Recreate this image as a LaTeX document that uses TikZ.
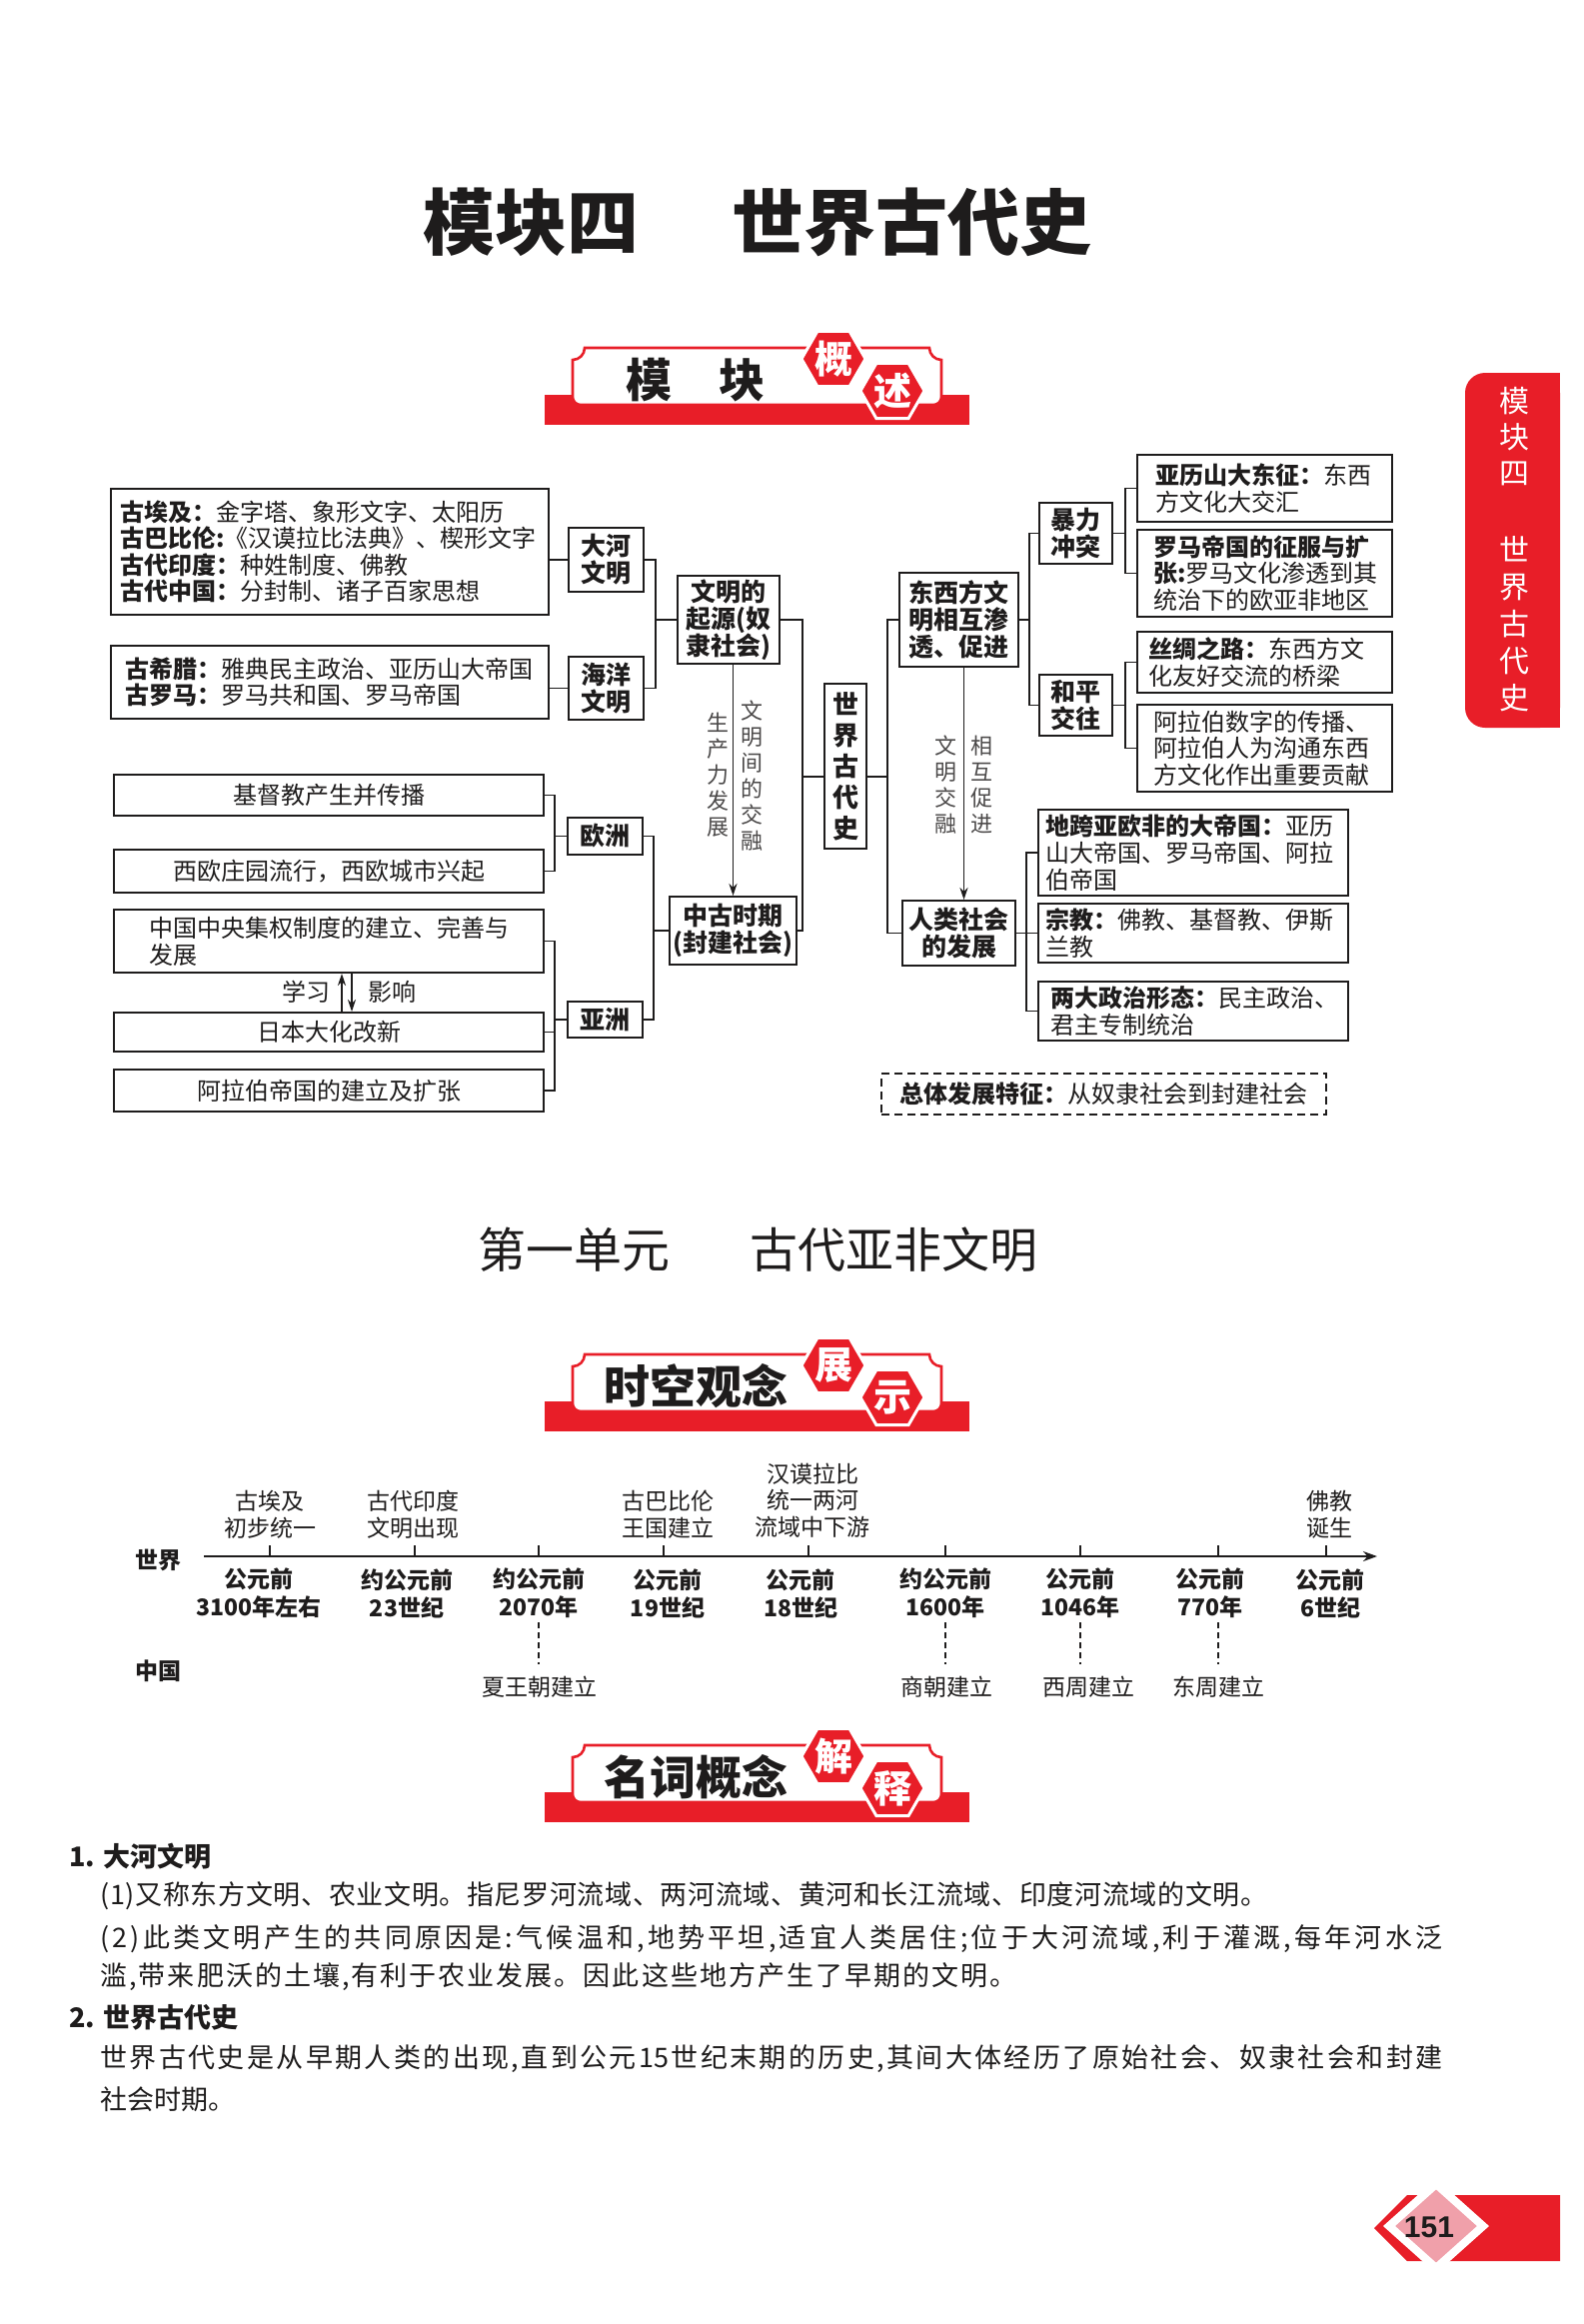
\documentclass[tikz,border=0pt]{standalone}
\usepackage{fontspec}
\setmainfont{Noto Sans CJK SC}
\newfontfamily\arialf{Liberation Sans}
\usetikzlibrary{arrows.meta,shapes.geometric}
\definecolor{hred}{RGB}{232,30,40}
\definecolor{hpink}{RGB}{240,160,170}
\definecolor{ink}{RGB}{30,28,28}
\newcommand{\myfs}[2]{\fontsize{#1pt}{#2pt}\selectfont}
\makeatletter
\newcommand{\spreadline}[2]{\makebox[#1][s]{\@tfor\my@c:=#2\do{\my@c\hfil}\unskip}}
\makeatother
\newcommand{\mybanner}[5]{%
  \fill[hred] (545,#1) rectangle (970,#1+30);
  \draw[hred, line width=1.3pt, fill=white] (573,#1-35) .. controls (579.6,#1-35) and (585,#1-40.4) .. (585,#1-47)
    -- (930,#1-47) .. controls (930,#1-40.4) and (935.4,#1-35) .. (942,#1-35)
    -- (942,#1+2) .. controls (942,#1+6.4) and (938.4,#1+10) .. (934,#1+10)
    -- (581,#1+10) .. controls (576.6,#1+10) and (573,#1+6.4) .. (573,#1+2) -- cycle;
  \node[inner sep=0pt, text=ink, font=\myfs{23}{23}\bfseries] (#2t) at (696,#1-15) {#3};
  \node[hexa] (#2a) at (834,#1-36) {#4};
  \node[hexa] (#2b) at (893,#1-4) {#5};
}
\begin{document}
\begin{tikzpicture}[x=0.5pt, y=-0.5pt,
  box/.style={draw=ink, line width=1pt, inner sep=0pt, align=center, text=ink, font=\myfs{12.5}{13.5}\bfseries},
  cbox/.style={draw=ink, line width=1pt, inner sep=0pt, align=left, text=ink, font=\myfs{12}{13.3}},
  sz/.style 2 args={minimum width=#1*0.5pt, minimum height=#2*0.5pt},
  conn/.style={draw=ink, line width=0.9pt},
  arr/.style={draw=ink, line width=0.9pt, -{Stealth[length=6pt,width=4pt]}},
  vlab/.style={inner sep=0pt, align=center, text=ink!80, font=\myfs{11}{13}},
  hexa/.style={regular polygon, regular polygon sides=6, minimum size=32pt, inner sep=0pt, fill=hred, draw=white, line width=1.5pt, text=white, font=\myfs{19}{19}\bfseries},
  tl/.style={inner sep=0pt, align=center, text=ink, font=\myfs{11.5}{13.3}},
  tlb/.style={inner sep=0pt, align=center, text=ink, font=\myfs{11.5}{14}\bfseries},
  jl/.style={anchor=west, inner sep=0pt, text=ink, font=\myfs{13.5}{15}},
  hd/.style={anchor=west, inner sep=0pt, text=ink, font=\myfs{13.5}{15}\bfseries},
  dsh/.style={draw=ink, line width=0.6pt, dash pattern=on 3pt off 2pt}
]
\fill[white] (0,0) rectangle (1585,2325);
\useasboundingbox (0,0) rectangle (1585,2325);

% ---------- title ----------
\node[inner sep=0pt, text=ink, font=\myfs{36}{36}\bfseries] (ttl1) at (531,222) {模块四};
\node[inner sep=0pt, text=ink, font=\myfs{36}{36}\bfseries] (ttl2) at (912,222) {世界古代史};

% ---------- side tab ----------
\fill[hred, rounded corners=10pt] (1466,373) rectangle (1561,728);
\fill[hred] (1520,373) rectangle (1561,728);
\node[inner sep=0pt, align=center, text=white, font=\myfs{15}{18}] (tab1) at (1515,437) {模\\块\\四};
\node[inner sep=0pt, align=center, text=white, font=\myfs{15}{18.5}] (tab2) at (1515,624) {世\\界\\古\\代\\史};

% ---------- banner 1 ----------
\mybanner{395}{bnA}{模\hspace{24pt}块}{概}{述}

% ---------- overview diagram ----------
\node[cbox, font=\myfs{12}{13.25}, sz={438}{126}, text width=210pt, inner xsep=4.5pt] (A1) at (330,552) {\textbf{古埃及：}金字塔、象形文字、太阳历\\\textbf{古巴比伦:}《汉谟拉比法典》、楔形文字\\\textbf{古代印度：}种姓制度、佛教\\\textbf{古代中国：}分封制、诸子百家思想};
\node[cbox, font=\myfs{12}{13.25}, sz={438}{73}, text width=205pt, inner xsep=7pt] (A2) at (330,682.5) {\textbf{古希腊：}雅典民主政治、亚历山大帝国\\\textbf{古罗马：}罗马共和国、罗马帝国};
\node[box, sz={75}{64}] (B1) at (606.5,560) {大河\\文明};
\node[box, sz={75}{63}] (B2) at (606.5,688.5) {海洋\\文明};
\node[box, sz={102}{88}] (C1) at (729,620) {文明的\\起源(奴\\隶社会)};
\node[box, sz={127}{68}] (C2) at (733.5,931) {中古时期\\(封建社会)};
\node[box, sz={42}{165}, font=\myfs{13}{15.5}\bfseries] (D) at (846,766.5) {世\\界\\古\\代\\史};
\node[box, sz={119}{94}] (E1) at (959.5,620) {东西方文\\明相互渗\\透、促进};
\node[box, sz={113}{65}] (E2) at (959.5,933.5) {人类社会\\的发展};

\node[cbox, sz={430}{41}] (L1) at (329,795.5) {基督教产生并传播};
\node[cbox, sz={430}{43}] (L2) at (329,871.5) {西欧庄园流行，西欧城市兴起};
\node[cbox, sz={430}{63}] (L3) at (329,941.5) {中国中央集权制度的建立、完善与\\发展};
\node[cbox, sz={430}{39}] (L4) at (329,1032.5) {日本大化改新};
\node[cbox, sz={430}{42}] (L5) at (329,1091) {阿拉伯帝国的建立及扩张};
\node[box, sz={75}{37}] (M1) at (605.5,836.5) {欧洲};
\node[box, sz={75}{36}] (M2) at (605.5,1020) {亚洲};

\node[box, sz={73}{61}] (R1) at (1076.5,533.5) {暴力\\冲突};
\node[box, sz={73}{61}] (R2) at (1076.5,705.5) {和平\\交往};
\node[cbox, sz={255}{67}, text width=109.5pt, inner xsep=9pt] (S1) at (1265.5,488.5) {\textbf{亚历山大东征：}东西\\方文化大交汇};
\node[cbox, sz={255}{87}, text width=111.5pt, inner xsep=8pt] (S2) at (1265.5,573.5) {\textbf{罗马帝国的征服与扩}\\\textbf{张:}罗马文化渗透到其\\统治下的欧亚非地区};
\node[cbox, sz={255}{61}, text width=116.5pt, inner xsep=5.5pt] (S3) at (1265.5,662.5) {\textbf{丝绸之路：}东西方文\\化友好交流的桥梁};
\node[cbox, sz={255}{87}, text width=111.5pt, inner xsep=8pt] (S4) at (1265.5,748.5) {阿拉伯数字的传播、\\阿拉伯人为沟通东西\\方文化作出重要贡献};
\node[cbox, sz={310}{86}, text width=148pt, inner xsep=3.5pt] (T1) at (1194,853) {\textbf{地跨亚欧非的大帝国：}亚历\\山大帝国、罗马帝国、阿拉\\伯帝国};
\node[cbox, sz={310}{59}, text width=148pt, inner xsep=3.5pt] (T2) at (1194,933.5) {\textbf{宗教：}佛教、基督教、伊斯\\兰教};
\node[cbox, sz={310}{59}, text width=143pt, inner xsep=6pt] (T3) at (1194,1011.5) {\textbf{两大政治形态：}民主政治、\\君主专制统治};
\node[draw=ink, line width=0.8pt, dash pattern=on 4pt off 2.5pt, inner sep=0pt, text=ink, font=\myfs{12}{13}, sz={445}{41}] (U) at (1104.5,1094.5) {\textbf{总体发展特征：}从奴隶社会到封建社会};

% junctions
\coordinate (jA) at (656,620);
\coordinate (jC) at (803,777);
\coordinate (jE) at (888,777);
\coordinate (jM1) at (555,836.5);
\coordinate (jM2) at (555,1020);
\coordinate (jN) at (654,931);
\coordinate (jR) at (1030,620);
\coordinate (jS1) at (1126,533.5);
\coordinate (jS2) at (1126,705.5);
\coordinate (jT) at (1027,933.5);

\draw[conn] (B1.west) -- (B1.west -| A1.east);
\draw[conn] (B2.west) -- (B2.west -| A2.east);
\draw[conn] (B1.east) -| (jA) |- (B2.east);
\draw[conn] (jA) -- (C1.west);
\draw[conn] (C1.east) -| (jC) |- (C2.east);
\draw[conn] (jC) -- (jC -| D.west);
\draw[conn] (jE -| D.east) -- (jE);
\draw[conn] (E1.west) -| (jE) |- (E2.west);
\draw[conn] (L1.east) -| (jM1) |- (L2.east);
\draw[conn] (jM1) -- (M1.west);
\draw[conn] (L3.east) -| (jM2) |- (L5.east);
\draw[conn] (L4.east) -- (L4.east -| jM2);
\draw[conn] (jM2) -- (M2.west);
\draw[conn] (M1.east) -| (jN) |- (M2.east);
\draw[conn] (jN) -- (C2.west);
\draw[conn] (E1.east) -- (jR);
\draw[conn] (R1.west) -| (jR) |- (R2.west);
\draw[conn] (S1.west) -| (jS1) |- (S2.west);
\draw[conn] (R1.east) -- (jS1);
\draw[conn] (S3.west) -| (jS2) |- (S4.west);
\draw[conn] (R2.east) -- (jS2);
\draw[conn] (T1.west) -| (jT) |- (T3.west);
\draw[conn] (E2.east) -- (T2.west);

\draw[arr] (C2.north |- C1.south) -- (C2.north);
\draw[arr] ([xshift=2.5pt]E2.north |- E1.south) -- ([xshift=2.5pt]E2.north);
\node[vlab] (v1) at (718,775) {生\\产\\力\\发\\展};
\node[vlab] (v2) at (752,776) {文\\明\\间\\的\\交\\融};
\node[vlab] (v3) at (946,785) {文\\明\\交\\融};
\node[vlab] (v4) at (982,785) {相\\互\\促\\进};

\draw[arr] ([xshift=6.5pt]L4.north) -- ([xshift=6.5pt]L3.south);
\draw[arr] ([xshift=11.5pt]L3.south) -- ([xshift=11.5pt]L4.north);
\node[inner sep=0pt, text=ink, font=\myfs{12}{13}] (xx) at (306,992) {学习};
\node[inner sep=0pt, text=ink, font=\myfs{12}{13}] (yx) at (392,992) {影响};

% ---------- unit title ----------
\node[inner sep=0pt, text=ink, font=\myfs{24}{24}] (un1) at (574,1250) {第一单元};
\node[inner sep=0pt, text=ink, font=\myfs{24}{24}] (un2) at (894,1250) {古代亚非文明};

% ---------- banner 2 ----------
\mybanner{1402}{bnB}{时空观念}{展}{示}

% ---------- timeline ----------
\node[tlb] (w0) at (158,1561) {世界};
\node[tlb] (c0) at (158,1672) {中国};
\coordinate (ax0) at (204,1557);
\coordinate (ax1) at (1378,1557);
\draw[draw=ink, line width=1.1pt, -{Stealth[length=7pt,width=5pt]}] (ax0) -- (ax1);
\foreach \x in {270,415,539,664,809,946,1081,1219,1327} \draw[conn] (\x,1557) -- (\x,1546);

\node[tl] (t1) at (270,1515) {古埃及\\初步统一};
\node[tl] (t2) at (413,1515) {古代印度\\文明出现};
\node[tl] (t3) at (668,1515) {古巴比伦\\王国建立};
\node[tl] (t4) at (813,1501) {汉谟拉比\\统一两河\\流域中下游};
\node[tl] (t5) at (1330,1515) {佛教\\诞生};

\node[tlb] (b1) at (259,1594) {公元前\\3100年左右};
\node[tlb] (b2) at (407,1594) {约公元前\\23世纪};
\node[tlb] (b3) at (539,1594) {约公元前\\2070年};
\node[tlb] (b4) at (668,1594) {公元前\\19世纪};
\node[tlb] (b5) at (801,1594) {公元前\\18世纪};
\node[tlb] (b6) at (946,1594) {约公元前\\1600年};
\node[tlb] (b7) at (1081,1594) {公元前\\1046年};
\node[tlb] (b8) at (1211,1594) {公元前\\770年};
\node[tlb] (b9) at (1331,1594) {公元前\\6世纪};

\node[tl] (c1) at (540,1688) {夏王朝建立};
\node[tl] (c2) at (947,1688) {商朝建立};
\node[tl] (c3) at (1089,1688) {西周建立};
\node[tl] (c4) at (1219,1688) {东周建立};
\draw[dsh] ([yshift=-2pt]b3.south) -- ([yshift=6pt]b3.south |- c1.north);
\draw[dsh] ([yshift=-2pt]b6.south) -- ([yshift=6pt]b6.south |- c2.north);
\draw[dsh] ([yshift=-2pt]b7.south) -- ([yshift=6pt]b7.south |- c3.north);
\draw[dsh] ([yshift=-2pt]c4.north |- b8.south) -- ([yshift=6pt]c4.north);

% ---------- banner 3 ----------
\mybanner{1793}{bnC}{名词概念}{解}{释}

% ---------- body text ----------
\node[hd] (h1) at (69,1857) {1. 大河文明};
\node[jl] (p1) at (100,1897) {\spreadline{584pt}{(1)又称东方文明、农业文明。指尼罗河流域、两河流域、黄河和长江流域、印度河流域的文明。}};
\node[jl] (p2) at (100,1940) {\spreadline{671.5pt}{(2)此类文明产生的共同原因是:气候温和,地势平坦,适宜人类居住;位于大河流域,利于灌溉,每年河水泛}};
\node[jl] (p3) at (100,1978) {\spreadline{458.5pt}{滥,带来肥沃的土壤,有利于农业发展。因此这些地方产生了早期的文明。}};
\node[hd] (h2) at (69,2018) {2. 世界古代史};
\node[jl] (p4) at (100,2060) {\spreadline{671.5pt}{世界古代史是从早期人类的出现,直到公元{15}世纪末期的历史,其间大体经历了原始社会、奴隶社会和封建}};
\node[jl] (p5) at (100,2100) {社会时期。};

% ---------- page number ----------
\fill[hred] (1375,2229) -- (1408,2196) -- (1561,2196) -- (1561,2262) -- (1408,2262) -- cycle;
\draw[white, line width=4pt, fill=hpink] (1437,2185) -- (1484,2227) -- (1437,2269) -- (1390,2227) -- cycle;
\node[inner sep=0pt, text=ink, font=\arialf\myfs{15}{15}\bfseries] (pg) at (1430,2228) {151};
\end{tikzpicture}
\end{document}
